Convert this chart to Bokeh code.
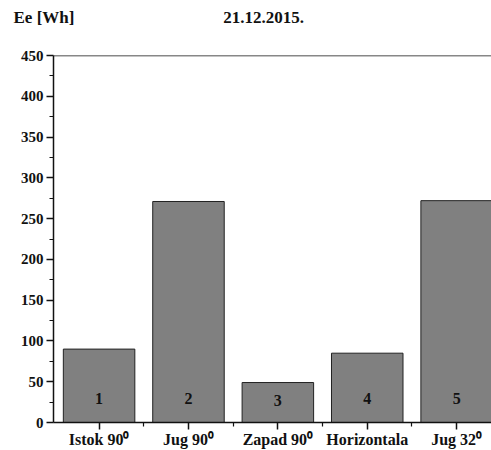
from bokeh.plotting import figure
from bokeh.models import ColumnDataSource, FixedTicker, Span, Title, LabelSet
from bokeh.embed import file_html
from bokeh.resources import INLINE
from bokeh.core.properties import value

positions = [1, 2, 3, 4, 5]
values = [90, 271, 49, 85, 272]
bar_labels = ["1", "2", "3", "4", "5"]
label_y = [30, 30, 27, 30, 30]
tick_labels = ["Istok 90\u2070", "Jug 90\u2070", "Zapad 90\u2070", "Horizontala", "Jug 32\u2070"]
y_ticks = [0, 50, 100, 150, 200, 250, 300, 350, 400, 450]
y_minor = [25, 75, 125, 175, 225, 275, 325, 375, 425]
x_minor = [1.5, 2.5, 3.5, 4.5]
y_title = "Ee [Wh]"
date_title = "21.12.2015."

FONT = "Liberation Serif"

src = ColumnDataSource(dict(x=positions, top=values, lab=bar_labels, ly=label_y))

p = figure(width=491, height=450, output_backend="svg", toolbar_location=None,
           x_range=(0.49, 5.39), y_range=(0, 450),
           min_border_left=53, min_border_right=0, min_border_top=55, min_border_bottom=28)
p.outline_line_color = None
p.grid.grid_line_color = None
p.background_fill_color = "white"

p.vbar(x="x", top="top", width=0.8, source=src, fill_color="#808080",
       line_color="#222222", line_width=1)

p.add_layout(LabelSet(x="x", y="ly", text="lab", source=src, text_align="center",
                      text_baseline="middle", text_font=value(FONT), text_font_style="bold",
                      text_font_size="16px", text_color="#111111"))

p.add_layout(Span(location=450, dimension="width", line_color="#111111", line_width=1.5))

p.yaxis.ticker = FixedTicker(ticks=y_ticks, minor_ticks=y_minor)
p.xaxis.ticker = FixedTicker(ticks=positions, minor_ticks=x_minor)
p.xaxis.major_label_overrides = {i: t for i, t in zip(positions, tick_labels)}

for ax in (p.xaxis, p.yaxis):
    ax.axis_line_width = 1.5
    ax.axis_line_color = "#111111"
    ax.major_tick_line_color = "#111111"
    ax.minor_tick_line_color = "#111111"
    ax.major_tick_line_width = 1.5
    ax.minor_tick_line_width = 1.2
    ax.major_tick_out = 7
    ax.major_tick_in = 0
    ax.minor_tick_out = 4
    ax.minor_tick_in = 0
    ax.major_label_text_font = FONT
    ax.major_label_text_font_style = "bold"
    ax.major_label_text_color = "#111111"
    ax.major_label_standoff = 3

p.xaxis.major_label_text_font_size = "16px"
p.yaxis.major_label_text_font_size = "15px"
p.xaxis.major_label_standoff = 1

# spacer (nearest the frame), then the real title line above it
p.add_layout(Title(text="\u00a0", standoff=10, text_font=FONT, text_font_size="16px"), "above")
title_text = y_title + "\u00a0" * 35 + date_title
p.add_layout(Title(text=title_text, align="left", offset=-40, standoff=0,
                   text_font=FONT, text_font_style="bold", text_font_size="17px",
                   text_color="#111111"), "above")

open("out.html", "w").write(file_html(p, INLINE))
